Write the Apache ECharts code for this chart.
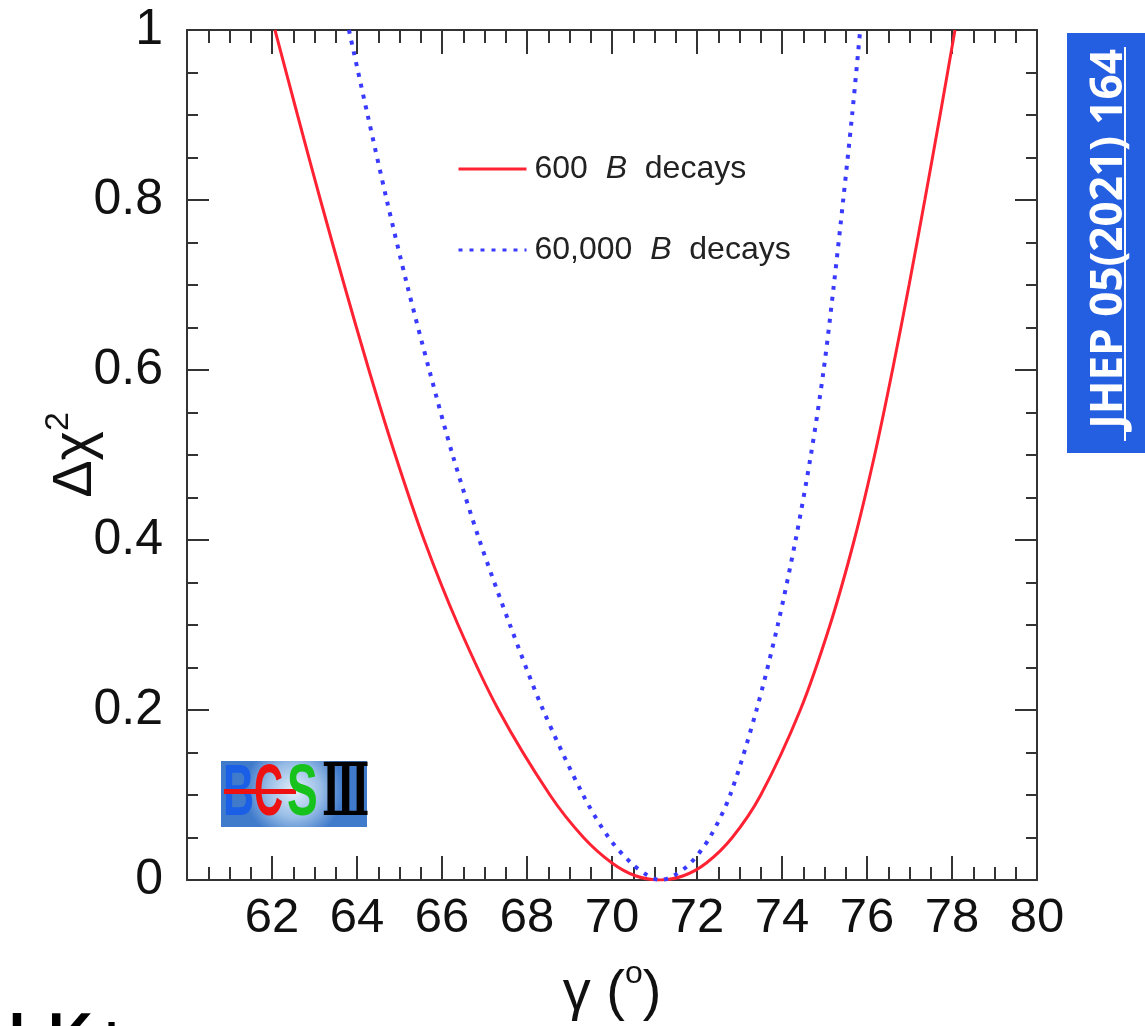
<!DOCTYPE html>
<html>
<head>
<meta charset="utf-8">
<script src="https://cdn.jsdelivr.net/npm/echarts@6/dist/echarts.min.js"></script>
<style>
html,body{margin:0;padding:0;background:#fff;}
#chart{width:1145px;height:1026px;}
</style>
</head>
<body>
<div id="chart"></div>
<script>
// ---- data ----
const seriesNames = ['600 B decays', '60,000 B decays'];
const redGamma = [62.07, 62.60, 63.14, 63.70, 64.28, 64.90, 65.58, 66.38, 67.33, 68.54, 69.33, 70.00, 70.55, 71.13, 71.68, 72.22, 72.83, 73.50, 74.43, 75.13, 75.70, 76.18, 76.60, 76.99, 77.36, 77.72, 78.07];
const redChi2  = [1.00, 0.90, 0.80, 0.70, 0.60, 0.50, 0.40, 0.30, 0.20, 0.10, 0.05, 0.02, 0.005, 0.00, 0.005, 0.02, 0.05, 0.10, 0.20, 0.30, 0.40, 0.50, 0.60, 0.70, 0.80, 0.90, 1.00];
const blueGamma = [63.81, 64.25, 64.70, 65.18, 65.70, 66.25, 66.88, 67.60, 68.38, 69.32, 69.92, 70.45, 70.85, 71.13, 71.45, 71.85, 72.30, 72.78, 73.40, 73.90, 74.32, 74.68, 74.98, 75.22, 75.44, 75.65, 75.84];
const blueChi2  = [1.00, 0.90, 0.80, 0.70, 0.60, 0.50, 0.40, 0.30, 0.20, 0.10, 0.05, 0.02, 0.005, 0.00, 0.005, 0.02, 0.05, 0.10, 0.20, 0.30, 0.40, 0.50, 0.60, 0.70, 0.80, 0.90, 1.00];
const xMin = 60, xMax = 80, xStep = 2;
const yMin = 0, yMax = 1, yStep = 0.2;
const xTitle = '{a|γ (}{s|o}{a|)}';
const yTitle = '{a|Δχ}{s|2}';
const reference = 'JHEP 05(2021) 164';
const logoLetters = ['B', 'C', 'S', 'Ⅲ'];
const cutText = 'LK+';

const chart = echarts.init(document.getElementById('chart'));
const FONT = '"Liberation Sans", Arial, sans-serif';
const tickCol = '#333';

function xAx(pos, labels) {
  return {
    type: 'value', position: pos, min: xMin, max: xMax, interval: xStep,
    axisLine: {show: true, onZero: false, lineStyle: {color: tickCol, width: 2}},
    axisTick: {show: true, inside: true, length: 24, lineStyle: {color: tickCol, width: 2}},
    minorTick: {show: true, splitNumber: 4, length: 13, lineStyle: {color: tickCol, width: 2}},
    splitLine: {show: false},
    axisLabel: {show: labels, margin: 14, fontSize: 49, color: '#111', fontFamily: FONT,
      formatter: v => (v === xMin ? '' : String(v))},
    name: labels ? xTitle : '', nameLocation: 'middle', nameGap: 78, nameMoveOverlap: false,
    nameTextStyle: {fontFamily: FONT, color: '#111', rich: {
      a: {fontSize: 56, fontFamily: FONT, color: '#111'},
      s: {fontSize: 32, fontFamily: FONT, color: '#111', padding: [0, 0, 40, 0]}
    }}
  };
}
function yAx(pos, labels) {
  return {
    type: 'value', position: pos, min: yMin, max: yMax, interval: yStep,
    axisLine: {show: true, onZero: false, lineStyle: {color: tickCol, width: 2}},
    axisTick: {show: true, inside: true, length: 22, lineStyle: {color: tickCol, width: 2}},
    minorTick: {show: true, splitNumber: 4, length: 11, lineStyle: {color: tickCol, width: 2}},
    splitLine: {show: false},
    axisLabel: {show: labels, margin: 24, fontSize: 50, color: '#111', fontFamily: FONT},
    name: labels ? yTitle : '', nameLocation: 'middle', nameGap: 77, nameMoveOverlap: false,
    nameTextStyle: {fontFamily: FONT, color: '#111', rich: {
      a: {fontSize: 56, fontFamily: FONT, color: '#111'},
      s: {fontSize: 34, fontFamily: FONT, color: '#111', padding: [0, 0, 34, 0]}
    }}
  };
}

const option = {
  animation: false,
  backgroundColor: '#fff',
  grid: {left: 187, right: 108, top: 30, bottom: 146, containLabel: false, outerBoundsMode: 'none'},
  xAxis: [xAx('bottom', true), xAx('top', false)],
  yAxis: [yAx('left', true), yAx('right', false)],
  legend: {
    orient: 'vertical', left: 452, top: 144, itemGap: 41, itemWidth: 68, itemHeight: 20,
    data: seriesNames,
    itemStyle: {color: 'rgba(0,0,0,0)', opacity: 0, borderWidth: 0},
    lineStyle: {width: 3},
    textStyle: {fontSize: 32, fontFamily: FONT, color: '#222', lineHeight: 40, padding: [0, 0, 0, 3],
      rich: {i: {fontStyle: 'italic', fontSize: 32, fontFamily: FONT, color: '#222'}}},
    formatter: n => n.replace(' B ', '  {i|B}  ')
  },
  series: [
    {
      name: seriesNames[0], type: 'line', xAxisIndex: 0, yAxisIndex: 0,
      data: redGamma.map((g, i) => [g, redChi2[i]]),
      smooth: 0.3, symbol: 'none', clip: true,
      lineStyle: {color: '#ff2233', width: 3},
      itemStyle: {color: '#ff2233'}
    },
    {
      name: seriesNames[1], type: 'line', xAxisIndex: 0, yAxisIndex: 0,
      data: blueGamma.map((g, i) => [g, blueChi2[i]]),
      smooth: 0.3, symbol: 'none', clip: true,
      lineStyle: {color: '#3a3aff', width: 4, type: [4, 7]},
      itemStyle: {color: '#3a3aff'}
    }
  ],
  graphic: [
    // BESIII logo
    {type: 'group', left: 221, top: 759, children: [
      {type: 'rect', shape: {x: 0, y: 0, width: 146, height: 66},
        style: {fill: new echarts.graphic.RadialGradient(0.5, 0.45, 0.75, [
          {offset: 0, color: '#e3eef9'}, {offset: 0.55, color: '#98bde6'}, {offset: 1, color: '#3f7acb'}])}},
      {type: 'text', x: 2, y: 34, scaleX: 0.6, style: {text: logoLetters[0], font: 'bold 72px "Liberation Sans"', fill: '#1a5fe6', verticalAlign: 'middle'}},
      {type: 'text', x: 33, y: 34, scaleX: 0.56, style: {text: logoLetters[1], font: 'bold 72px "Liberation Sans"', fill: '#ee1111', verticalAlign: 'middle'}},
      {type: 'rect', shape: {x: 3, y: 28, width: 72, height: 5}, style: {fill: '#ee1111'}},
      {type: 'text', x: 66, y: 34, scaleX: 0.64, style: {text: logoLetters[2], font: 'bold 72px "Liberation Sans"', fill: '#18c21c', verticalAlign: 'middle'}},
      {type: 'text', x: 101, y: 35, scaleX: 0.54, style: {text: logoLetters[3], font: 'bold 72px "DejaVu Serif"', fill: '#000', verticalAlign: 'middle'}}
    ]},
    // reference badge
    {type: 'rect', shape: {x: 1067, y: 33, width: 78, height: 420}, style: {fill: '#235fe0'}},
    {type: 'text', x: 1109, y: 239, rotation: Math.PI / 2,
      style: {text: reference, font: 'bold 44px "Open Sans"', fill: '#fff', align: 'center', verticalAlign: 'middle'}},
    {type: 'line', shape: {x1: 1125, y1: 47, x2: 1125, y2: 441}, style: {stroke: '#fff', lineWidth: 2}},
    // cut-off text at bottom-left
    {type: 'text', x: 6, y: 1008, style: {text: cutText, font: '600 72px "Open Sans"', fill: '#000', verticalAlign: 'top'}}
  ]
};
chart.setOption(option);
</script>
</body>
</html>
